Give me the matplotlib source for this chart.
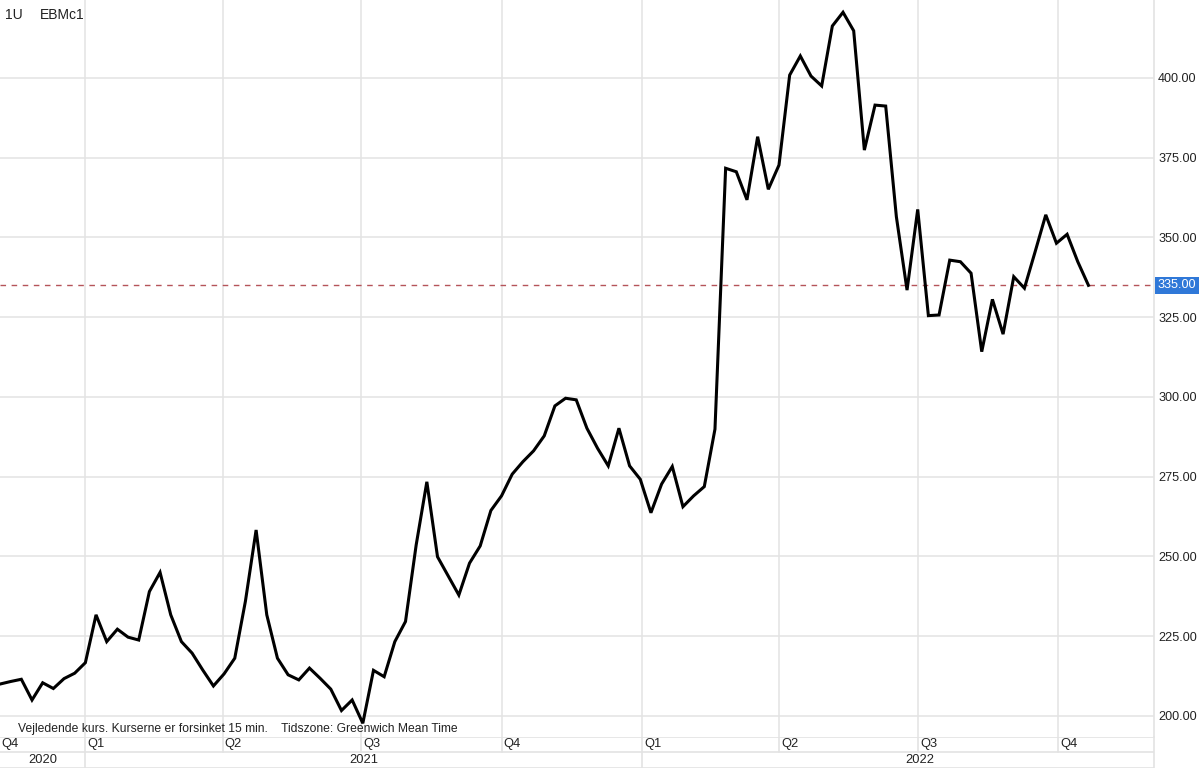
import matplotlib
matplotlib.use("Agg")
import matplotlib.pyplot as plt
import matplotlib.dates as mdates
import numpy as np
import pandas as pd

plt.rcParams['font.family'] = ['Liberation Sans', 'DejaVu Sans']

# ---- data (weekly closes) ----
start_date = "2020-11-06"
prices = [
    210.0, 210.8, 211.5, 205.0, 210.4, 208.6, 211.7, 213.4, 216.7, 231.7,
    223.3, 227.2, 224.7, 223.8, 239.0, 245.0, 231.7, 223.3, 219.7, 214.4,
    209.4, 213.2, 218.1, 236.0, 258.3, 231.7, 218.1, 212.9, 211.3, 215.0,
    211.8, 208.4, 201.7, 205.0, 197.7, 214.3, 212.3, 223.3, 229.6, 253.6,
    273.4, 249.9, 243.9, 237.9, 247.9, 253.3, 264.4, 269.0, 275.8, 279.7,
    283.1, 287.8, 297.2, 299.6, 299.1, 290.2, 283.9, 278.4, 290.2, 278.4,
    274.2, 263.7, 272.7, 278.2, 265.6, 269.0, 271.9, 289.9, 371.7, 370.6,
    361.8, 381.6, 365.1, 372.7, 400.9, 406.9, 400.6, 397.5, 416.3, 420.6,
    414.8, 377.4, 391.5, 391.2, 356.5, 333.5, 358.8, 325.5, 325.7, 342.9,
    342.4, 338.8, 314.2, 330.6, 319.7, 337.7, 334.1, 345.5, 357.1, 348.2,
    351.0, 342.4, 335.0,
]
last_price = 335.0
ytick_values = [200, 225, 250, 275, 300, 325, 350, 375, 400]
quarter_starts = ["2021-01-01", "2021-04-01", "2021-07-01", "2021-10-01",
                  "2022-01-01", "2022-04-01", "2022-07-01", "2022-10-01"]
quarter_labels = ["Q1", "Q2", "Q3", "Q4", "Q1", "Q2", "Q3", "Q4"]
first_quarter_label = "Q4"
years = [2020, 2021, 2022]
footnote = "Vejledende kurs. Kurserne er forsinket 15 min.    Tidszone: Greenwich Mean Time"
title_left = "1U"
title_symbol = "EBMc1"

dates = pd.date_range(start_date, periods=len(prices), freq="7D")
x = mdates.date2num(dates)
xmin = mdates.date2num(pd.Timestamp(start_date))
xmax = mdates.date2num(pd.Timestamp("2022-12-03"))
qx = mdates.date2num(pd.to_datetime(quarter_starts))

W, H = 1200, 768
fig = plt.figure(figsize=(12, 7.68), dpi=100)
grid_c = "#e3e3e3"
text_c = "#222222"

# main axes
px_right = 1154
px_bottom = 737
ax = fig.add_axes([0, (H - px_bottom) / H, px_right / W, px_bottom / H])
ax.set_xlim(xmin, xmax)
ax.set_ylim(193.4, 424.45)
for s in ["top", "left", "bottom"]:
    ax.spines[s].set_visible(False)
ax.spines["right"].set_color(grid_c)
ax.spines["right"].set_linewidth(1.2)

ax.yaxis.tick_right()
ax.set_yticks(ytick_values)
ax.set_yticklabels([f"{v:.2f}" for v in ytick_values], fontsize=9.1, color=text_c)
ax.tick_params(axis="y", length=0, pad=3)
ax.set_xticks(qx)
ax.tick_params(axis="x", length=0, labelbottom=False)
ax.grid(True, color=grid_c, linewidth=1.1)
ax.set_axisbelow(True)

ax.plot(x, prices, color="black", linewidth=2.2, solid_joinstyle="miter", zorder=3)
ax.axhline(last_price, color="#b5545a", linewidth=1.0, dashes=(4, 4), zorder=2)
ax.text(1.003, last_price, f"{last_price:.2f}", transform=ax.get_yaxis_transform(),
        ha="left", va="center", fontsize=9.1, color="white",
        bbox=dict(boxstyle="square,pad=0.22", fc="#2f78d8", ec="none"), clip_on=False)

ax.text(5 / px_right, 1 - 15 / px_bottom, title_left, transform=ax.transAxes,
        fontsize=10, color=text_c, va="center", ha="left")
ax.text(40 / px_right, 1 - 15 / px_bottom, title_symbol, transform=ax.transAxes,
        fontsize=10, color=text_c, va="center", ha="left")
ax.text(18 / px_right, (px_bottom - 729) / px_bottom, footnote, transform=ax.transAxes,
        fontsize=8.7, color=text_c, va="center", ha="left")

# bottom time-axis band (quarters + years)
bx = fig.add_axes([0, 0, px_right / W, (H - px_bottom) / H])
bx.set_xlim(xmin, xmax)
bx.set_ylim(0, 31)
bx.axis("off")
ytop, ymid, ybot = 31, 16, 0.5
bx.axhline(ytop - 0.3, color=grid_c, linewidth=1.2)
bx.axhline(ymid, color=grid_c, linewidth=1.2)
bx.axhline(ybot, color=grid_c, linewidth=1.2)
bx.plot([xmax, xmax], [0, 31], color=grid_c, linewidth=1.2, clip_on=False)
year_starts = [mdates.date2num(pd.Timestamp(f"{y}-01-01")) for y in years[1:]]
for q in qx:
    full = any(abs(q - ys) < 1 for ys in year_starts)
    bx.plot([q, q], [0 if full else ymid, ytop], color=grid_c, linewidth=1.2)
bx.text(xmin + 1.2, (ytop + ymid) / 2, first_quarter_label, fontsize=9.3,
        color=text_c, ha="left", va="center")
for q, lab in zip(qx, quarter_labels):
    bx.text(q + 1.5, (ytop + ymid) / 2, lab, fontsize=9.3, color=text_c,
            ha="left", va="center")
for y in years:
    a = max(xmin, mdates.date2num(pd.Timestamp(f"{y}-01-01")))
    b = mdates.date2num(pd.Timestamp(f"{y + 1}-01-01"))
    bx.text((a + b) / 2, ymid / 2, str(y), fontsize=9.3, color=text_c,
            ha="center", va="center", clip_on=False)

fig.savefig("out.png", dpi=100)
